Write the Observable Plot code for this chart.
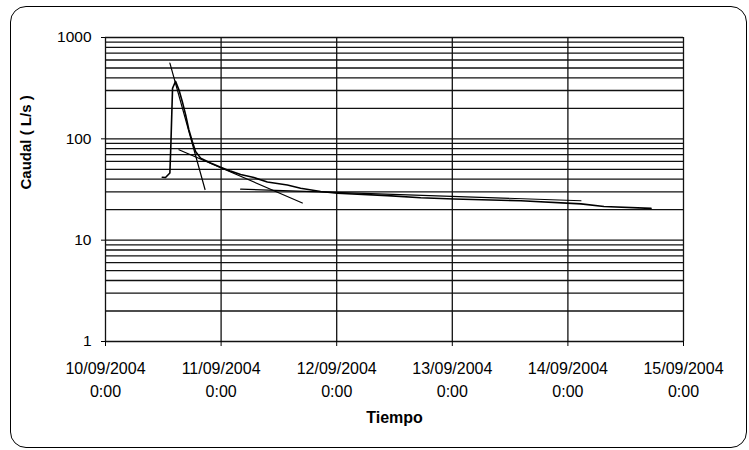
<!DOCTYPE html>
<html><head><meta charset="utf-8">
<script src="https://cdn.jsdelivr.net/npm/d3@7"></script>
<script src="https://cdn.jsdelivr.net/npm/@observablehq/plot@0.6"></script>
<style>
body{margin:0;background:#fff;}
#wrap{position:relative;width:749px;height:450px;overflow:hidden;}
#border{position:absolute;left:10px;top:6px;width:737px;height:442px;border:1.5px solid #000;border-radius:16px;box-sizing:border-box;pointer-events:none;}
</style></head>
<body><div id="wrap"><div id="border"></div></div>
<script>
// Tick labels / categories
const dayTicks = ["2004-09-10","2004-09-11","2004-09-12","2004-09-13","2004-09-14","2004-09-15"];
const yTicks = [1, 10, 100, 1000];

// Main hydrograph: time (days after 10/09/2004 0:00) and flow (L/s)
const mainDays = [0.491,0.519,0.557,0.565,0.580,0.606,0.635,0.664,0.693,0.721,0.751,0.779,0.823,0.909,0.996,1.082,1.169,1.284,1.400,1.573,1.688,1.861,2.006,2.439,2.727,3.013,3.593,4.113,4.312,4.719];
const mainFlow = [41.8,41.5,46,84,316,369,305,234,173,123,94,75,64.5,57.8,52.5,48,44.5,41.5,37.5,35,32.5,30.2,29,27.5,26.2,25.5,24.5,22.8,21.5,20.6];

// Recession tangent lines (start/end)
const tan1Days = [0.557, 0.861], tan1Flow = [558, 31.6];
const tan2Days = [0.635, 1.703], tan2Flow = [78, 23.3];
const tan3Days = [1.169, 4.113], tan3Flow = [31.9, 24.5];

const t0 = new Date(dayTicks[0] + "T00:00:00Z");
const toDate = d => new Date(+t0 + d * 864e5);
const series = (days, flow) => days.map((d, i) => ({t: toDate(d), q: flow[i]}));

const dayDates = dayTicks.map(s => new Date(s + "T00:00:00Z"));
const gridY = [];
for (const p of [1, 10, 100]) for (let k = 1; k <= 9; k++) gridY.push(k * p);
gridY.push(1000);

const fmtDay = d3.utcFormat("%d/%m/%Y");

const chart = Plot.plot({
  width: 749, height: 450,
  marginLeft: 105, marginRight: 66, marginTop: 37, marginBottom: 109,
  style: {fontFamily: "Arial, 'Liberation Sans', sans-serif", background: "transparent", color: "#000", overflow: "visible"},
  x: {type: "utc", domain: [dayDates[0], dayDates[dayDates.length - 1]]},
  y: {type: "log", domain: [1, 1000]},
  marks: [
    Plot.ruleY(gridY, {stroke: "#111", strokeWidth: 1.3}),
    Plot.ruleX(dayDates, {stroke: "#111", strokeWidth: 1.3}),
    Plot.axisX({ticks: dayDates, tickFormat: d => fmtDay(d) + "\n0:00", tickSize: 5, tickPadding: 11, fontSize: 16, lineHeight: 1.45, label: null}),
    Plot.axisY({ticks: yTicks, tickFormat: d => String(d), tickSize: 4, tickPadding: 10, fontSize: 15.5, label: null}),
    Plot.line(series(tan1Days, tan1Flow), {x: "t", y: "q", stroke: "#000", strokeWidth: 1.2}),
    Plot.line(series(tan2Days, tan2Flow), {x: "t", y: "q", stroke: "#000", strokeWidth: 1.2}),
    Plot.line(series(tan3Days, tan3Flow), {x: "t", y: "q", stroke: "#000", strokeWidth: 1.2}),
    Plot.line(series(mainDays, mainFlow), {x: "t", y: "q", stroke: "#000", strokeWidth: 1.6}),
    Plot.text(["Tiempo"], {text: d => d, frameAnchor: "bottom", dy: 76, fontSize: 16, fontWeight: "bold", lineAnchor: "middle"}),
    Plot.text(["Caudal ( L/s )"], {text: d => d, frameAnchor: "left", dx: -79, rotate: -90, fontSize: 15, fontWeight: "bold", lineAnchor: "middle"})
  ]
});
document.getElementById("wrap").prepend(chart);
</script>
</body></html>
